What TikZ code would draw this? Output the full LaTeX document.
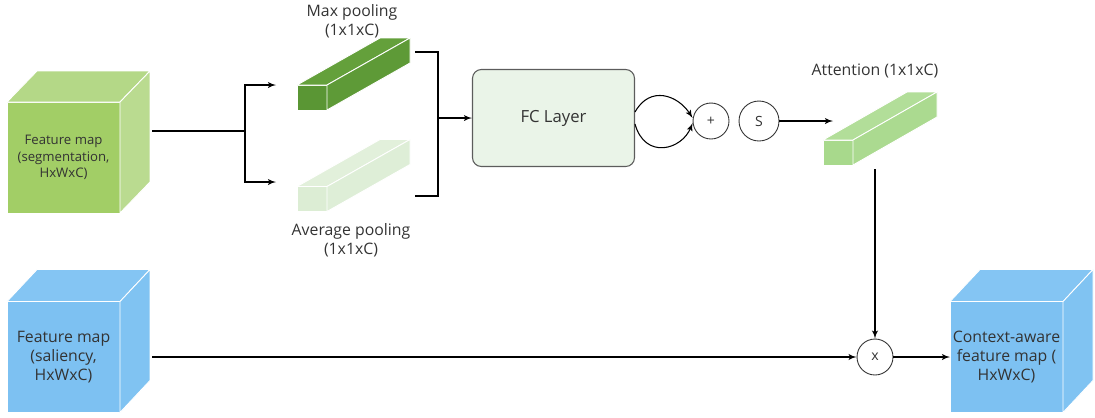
\documentclass[tikz,border=0pt]{standalone}
\usepackage{fontspec}
\setmainfont{Open Sans}
\usetikzlibrary{arrows,calc,positioning}
\definecolor{segfront}{HTML}{A2CE66}
\definecolor{segtop}{HTML}{B4D887}
\definecolor{segside}{HTML}{BADB90}
\definecolor{salfront}{HTML}{7DC1F2}
\definecolor{saltop}{HTML}{84C5F3}
\definecolor{salside}{HTML}{80C3F2}
\definecolor{maxfront}{HTML}{5A9634}
\definecolor{maxtop}{HTML}{64A03B}
\definecolor{maxside}{HTML}{5E9A37}
\definecolor{avgfront}{HTML}{DCEDD4}
\definecolor{avgtop}{HTML}{E2F0DB}
\definecolor{avgside}{HTML}{DEEED7}
\definecolor{attfront}{HTML}{A8D98C}
\definecolor{atttop}{HTML}{B2DE99}
\definecolor{attside}{HTML}{ABDA90}
\definecolor{fcfill}{HTML}{EAF4E8}
\definecolor{ink}{HTML}{333333}
\tikzset{face/.style={rectangle,draw=white,line width=0.5pt,inner sep=0pt,outer sep=0pt,text=ink,align=center},
         bigface/.style={face,minimum width=2.26cm,minimum height=2.22cm},
         barface/.style={face,minimum width=0.6cm,minimum height=0.5cm},
         op/.style={circle,draw=ink,line width=0.5pt,fill=white,inner sep=0pt,minimum size=0.72cm,font=\fontsize{8}{9}\selectfont,text=ink},
         fclayer/.style={rectangle,rounded corners=5pt,draw=ink!80,line width=0.6pt,fill=fcfill,minimum width=3.24cm,minimum height=1.94cm,text=ink,font=\fontsize{9.5}{11}\selectfont},
         caption/.style={rectangle,text=ink,align=center,font=\fontsize{9}{11}\selectfont,inner sep=0pt}
}
% top and side faces behind a front node: name, dx, dy, top colour, side colour
\newcommand{\depthfaces}[5]{
  \filldraw[fill=#4,draw=white,line width=0.5pt] (#1.north west) -- ++(#2,#3) -- ($(#1.north east)+(#2,#3)$) -- (#1.north east) -- cycle;
  \filldraw[fill=#5,draw=white,line width=0.5pt] (#1.north east) -- ++(#2,#3) -- ($(#1.south east)+(#2,#3)$) -- (#1.south east) -- cycle;
}
\begin{document}
\begin{tikzpicture}[x=0.02cm,y=-0.02cm,>=latex',line width=0.6pt]
\useasboundingbox (0,0) rectangle (1095,417);

% input cubes
\node[bigface,fill=segfront,font=\fontsize{7.5}{9.5}\selectfont] (seg) at (63.5,157.5) {Feature map\\(segmentation,\\HxWxC)};
\depthfaces{seg}{30}{-31}{segtop}{segside}
\node[bigface,fill=salfront,font=\fontsize{9}{11}\selectfont] (sal) at (63.5,357) {Feature map\\(saliency,\\HxWxC)};
\depthfaces{sal}{30}{-32}{saltop}{salside}

% pooling bars
\node[barface,fill=maxfront] (maxbar) at (312,97.5) {};
\depthfaces{maxbar}{83}{-47}{maxtop}{maxside}
\node[barface,fill=avgfront] (avgbar) at (312,199) {};
\depthfaces{avgbar}{83}{-47}{avgtop}{avgside}
\node[caption] (maxlabel) at (352,21) {Max pooling\\(1x1xC)};
\node[caption] (avglabel) at (351,240) {Average pooling\\(1x1xC)};

% fc layer and ops
\node[fclayer] (fc) at (553.5,118) {FC Layer};
\node[op] (plus) at (711,121) {+};
\node[op,minimum size=0.8cm] (sig) at (759,121) {S};

% attention
\node[barface,fill=attfront] (att) at (838,152.5) {};
\depthfaces{att}{84}{-48}{atttop}{attside}
\node[caption] (attlabel) at (875,71) {Attention (1x1xC)};

% output
\node[op] (mult) at (875,357) {x};
\node[bigface,fill=salfront,font=\fontsize{9}{11}\selectfont] (out) at (1006.5,357) {Context-aware\\feature map (\\HxWxC)};
\depthfaces{out}{30}{-32}{saltop}{salside}

\coordinate (segout) at (152,131);
\coordinate (split) at (245,131);
\coordinate (maxin) at (276,85);
\coordinate (avgin) at (276,182);
\coordinate (maxout) at (415,52);
\coordinate (avgout) at (415,196);
\coordinate (join) at (438,118);
\coordinate (attin) at (833,121);
\coordinate (attout) at (875,169);
\coordinate (salout) at (152,357);

\draw (segout) -- (split);
\draw[->] (split) |- (maxin);
\draw[->] (split) |- (avgin);
\draw (maxout) -| (join) |- (avgout);
\draw[->] (join) -- (fc.west);
\draw[->] (fc.east) ++(0,-6) .. controls (650,85) and (678,95) .. ($(plus.west)+(0,-3)$);
\draw[->] (fc.east) ++(0,6) .. controls (645,160) and (682,150) .. ($(plus.west)+(0,2)$);
\draw[->] (sig.east) -- (attin);
\draw[->] (attout) -- (mult.north);
\draw[->] (salout) -- (mult.west);
\draw[->] (mult.east) -- (out.west);
\end{tikzpicture}
\end{document}
